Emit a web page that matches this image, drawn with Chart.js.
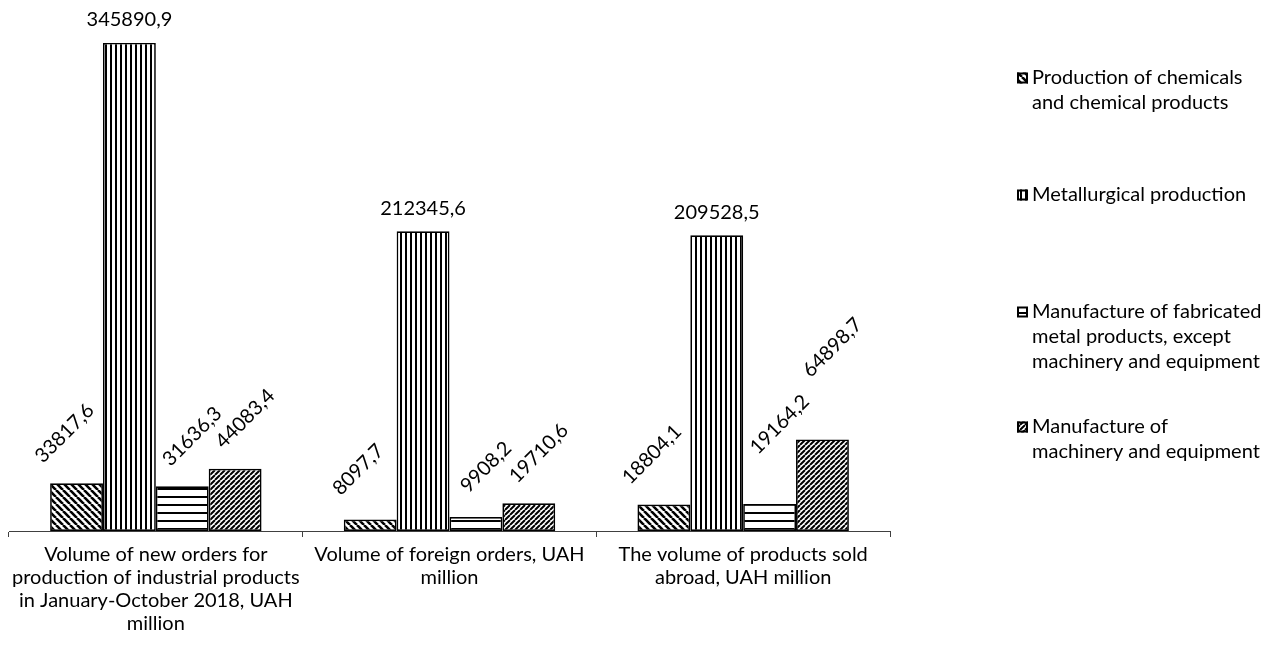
<!DOCTYPE html>
<html>
<head>
<meta charset="utf-8">
<title>Industrial orders by sector</title>
<script src="https://cdn.jsdelivr.net/npm/chart.js@4.4.1/dist/chart.umd.min.js"></script>
<style>
  html, body { margin: 0; padding: 0; background: #fff; }
  #wrap { width: 1275px; height: 647px; position: relative; }
</style>
</head>
<body>
<div id="wrap"><canvas id="chart"></canvas></div>
<script>
// category labels (x axis), split into lines as in the reference
const categories = [
  ['Volume of new orders for', 'production of industrial products', 'in January-October 2018, UAH', 'million'],
  ['Volume of foreign orders, UAH', 'million'],
  ['The volume of products sold', 'abroad, UAH million']
];

const seriesNames = [
  'Production of chemicals and chemical products',
  'Metallurgical production',
  'Manufacture of fabricated metal products, except machinery and equipment',
  'Manufacture of machinery and equipment'
];

// legend text wrapped the way the reference shows it
const legendLines = [
  ['Production of chemicals', 'and chemical products'],
  ['Metallurgical production'],
  ['Manufacture of fabricated', 'metal products, except', 'machinery and equipment'],
  ['Manufacture of', 'machinery and equipment']
];

// values, UAH million
const chemicals   = [33817.6, 8097.7, 18804.1];
const metallurgy  = [345890.9, 212345.6, 209528.5];
const fabricated  = [31636.3, 9908.2, 19164.2];
const machinery   = [44083.4, 19710.6, 64898.7];

const FONT = 'Lato, "Open Sans", sans-serif';
const FONT_SIZE = 20;

// --- hatch patterns ---
function makeTile(w, h, draw) {
  const c = document.createElement('canvas');
  c.width = w; c.height = h;
  const g = c.getContext('2d');
  g.fillStyle = '#fff';
  g.fillRect(0, 0, w, h);
  g.strokeStyle = '#000';
  g.fillStyle = '#000';
  draw(g, w, h);
  return c;
}

function diagTile(s, lw, down) {
  return makeTile(s, s, (g) => {
    g.lineWidth = lw;
    g.beginPath();
    for (const k of [-s, 0, s]) {
      if (down) { g.moveTo(k, 0); g.lineTo(k + s, s); }
      else { g.moveTo(k, s); g.lineTo(k + s, 0); }
    }
    g.stroke();
  });
}

const ctx = document.getElementById('chart').getContext('2d');
const tiles = [
  diagTile(7, 2.6, true),                                   // "\\" chemicals
  makeTile(5, 1, (g) => g.fillRect(0, 0, 2, 1)),           // vertical lines
  makeTile(1, 8, (g) => g.fillRect(0, 0, 1, 2)),           // horizontal lines
  diagTile(5, 2, false)                                     // "/" machinery
];
const patterns = tiles.map(t => ctx.createPattern(t, 'repeat'));

const valueLabels = {
  id: 'valueLabels',
  afterDatasetsDraw(chart) {
    const c = chart.ctx;
    const nDs = chart.data.datasets.length;
    const placed = {};   // label centres of the previous rotated series, per category
    c.save();
    c.fillStyle = '#000';
    c.font = FONT_SIZE + 'px ' + FONT;
    c.textAlign = 'center';
    c.textBaseline = 'middle';
    chart.data.datasets.forEach((ds, di) => {
      chart.getDatasetMeta(di).data.forEach((bar, i) => {
        const txt = ds.data[i].toFixed(1).replace('.', ',');
        if (di === 1) {
          c.fillText(txt, bar.x, bar.y - 23);
          return;
        }
        // rotated labels lean away from the tall metallurgy bar
        const x = bar.x + (di === 0 ? -12 : 10);
        let y = bar.y - 50;
        // keep clear of a taller right-hand neighbour
        if (di > 1 && di < nDs - 1) {
          const next = chart.getDatasetMeta(di + 1).data[i];
          y = Math.min(y, next.y - 15);
        }
        // step up past the previous 45-degree label if they would touch
        const prev = placed[i];
        if (di > 2 && prev) {
          const sep = ((x - prev.x) + (y - prev.y)) / Math.SQRT2;
          if (Math.abs(sep) < 17) y = prev.y - (x - prev.x) - 17 * Math.SQRT2;
        }
        placed[i] = { x, y };
        c.save();
        c.translate(x, y);
        c.rotate(-Math.PI / 4);
        c.fillText(txt, 0, 0);
        c.restore();
      });
    });
    c.restore();
  }
};

const sideLegend = {
  id: 'sideLegend',
  afterDraw(chart) {
    const c = chart.ctx;
    const x = 1017, box = 11, textX = 1032, lh = 25;
    const tops = [78, 195, 312, 427];
    c.save();
    c.font = FONT_SIZE + 'px ' + FONT;
    c.textBaseline = 'middle';
    c.textAlign = 'left';
    legendLines.forEach((lines, i) => {
      const y = tops[i];
      c.fillStyle = patterns[i];
      c.fillRect(x, y - box / 2, box, box);
      c.lineWidth = 2;
      c.strokeStyle = '#000';
      c.strokeRect(x + 1, y - box / 2 + 1, box - 2, box - 2);
      c.fillStyle = '#000';
      lines.forEach((ln, k) => c.fillText(ln, textX, y + k * lh));
    });
    c.restore();
  }
};

const seriesValues = [chemicals, metallurgy, fabricated, machinery];

new Chart(ctx, {
  type: 'bar',
  data: {
    labels: categories,
    datasets: seriesValues.map((vals, i) => ({
      label: seriesNames[i],
      data: vals,
      backgroundColor: patterns[i],
      borderColor: '#000',
      borderWidth: 1.7,
      borderSkipped: false,
      categoryPercentage: 0.72,
      barPercentage: 1.0
    }))
  },
  options: {
    responsive: true,
    maintainAspectRatio: false,
    animation: false,
    devicePixelRatio: 1,
    layout: { padding: { left: 9, right: 385, top: 23, bottom: 5 } },
    plugins: {
      legend: { display: false },
      tooltip: { enabled: false }
    },
    scales: {
      y: { display: false, min: 0, max: 360000 },
      x: {
        grid: {
          display: true,
          drawOnChartArea: false,
          drawTicks: true,
          tickLength: 6,
          color: '#404040'
        },
        border: { display: true, color: '#404040', width: 1 },
        ticks: {
          color: '#000',
          font: { family: FONT, size: FONT_SIZE, lineHeight: 1.15 },
          padding: 6.5,
          maxRotation: 0,
          autoSkip: false
        }
      }
    }
  },
  plugins: [valueLabels, sideLegend]
});
</script>
</body>
</html>
